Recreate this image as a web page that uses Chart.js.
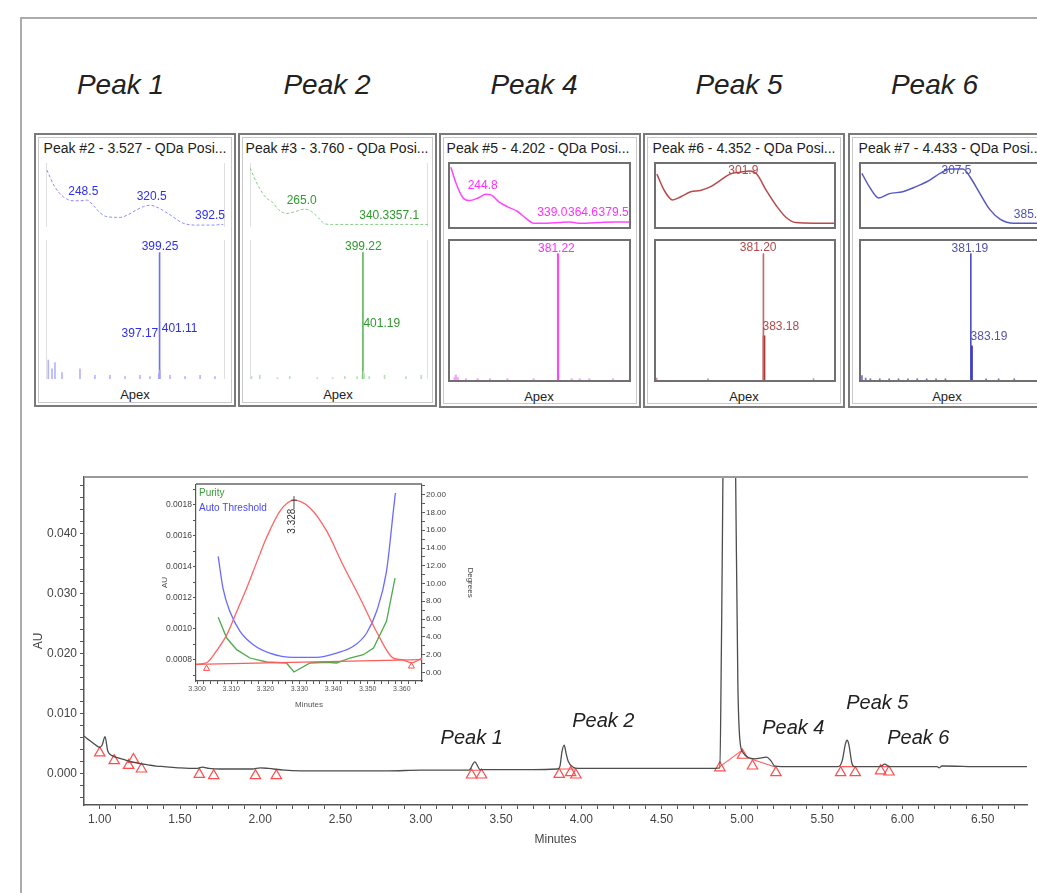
<!DOCTYPE html>
<html><head><meta charset="utf-8"><title>Chromatogram with peak spectra</title>
<script src="https://cdn.jsdelivr.net/npm/chart.js@4.4.1/dist/chart.umd.min.js"></script>
<style>
html,body{margin:0;padding:0;background:#fff;}
body{width:1037px;height:893px;overflow:hidden;position:relative;font-family:"Liberation Sans",Arial,Helvetica,sans-serif;}
.abs{position:absolute;}
.frame{left:20px;top:17px;width:1100px;height:900px;border-top:2px solid #ababab;border-left:2px solid #ababab;}
.bigT{font-style:italic;font-size:28px;color:#222;transform:translate(-50%,-50%);white-space:nowrap;}
.peakT{font-style:italic;font-size:20px;color:#222;transform:translate(-50%,-50%);white-space:nowrap;}
.panel{border:2px solid #7a7a7a;box-shadow:inset 0 0 0 2px #fff,inset 0 0 0 3px #c9c9c9;box-sizing:border-box;}
.ptitle{font-size:14px;color:#222;white-space:nowrap;transform:translate(-50%,-50%);}
.apex{font-size:13px;color:#222;transform:translate(-50%,-50%);white-space:nowrap;}
.box{border:2px solid #707070;box-sizing:border-box;}
.faint{border-left:1px solid #e0e0e0;border-right:1px solid #e0e0e0;box-sizing:border-box;}
canvas{position:absolute;}
</style></head>
<body>
<div class="abs frame"></div>
<script>
// ===================== DATA =====================
const TOP_TITLES = ['Peak 1', 'Peak 2', 'Peak 4', 'Peak 5', 'Peak 6'];
const PANEL_TITLES = ['Peak #2 - 3.527 - QDa Posi...', 'Peak #3 - 3.760 - QDa Posi...',
  'Peak #5 - 4.202 - QDa Posi...', 'Peak #6 - 4.352 - QDa Posi...', 'Peak #7 - 4.433 - QDa Posi...'];
const PANEL_FOOT = 'Apex';
const PEAK_NOTES = ['Peak 1', 'Peak 2', 'Peak 4', 'Peak 5', 'Peak 6'];

// main chromatogram (minutes, AU)
const CHROM_T = [0.902,0.94,0.98,1.00,1.015,1.033,1.05,1.08,1.12,1.16,1.20,1.25,1.30,1.35,1.40,1.50,1.60,1.64,1.68,1.75,
  1.85,1.95,2.00,2.05,2.15,2.25,2.40,2.60,2.80,3.00,3.20,3.30,3.336,3.37,3.50,3.70,3.85,3.866,3.88,3.893,3.905,3.918,3.949,
  3.98,4.05,4.20,4.40,4.60,4.80,4.863,4.872,4.92,4.961,4.975,4.988,5.008,5.04,5.08,5.13,5.155,5.18,5.205,5.30,5.50,5.60,
  5.625,5.645,5.656,5.667,5.685,5.70,5.80,5.86,5.89,5.92,6.10,6.215,6.23,6.245,6.50,6.776];
const CHROM_AU = [0.0063,0.0055,0.0047,0.0044,0.0048,0.0062,0.0038,0.0030,0.0026,0.0023,0.0020,0.0017,0.0015,0.0013,0.0012,
  0.0010,0.0009,0.0011,0.0009,0.0008,0.0008,0.0008,0.0010,0.0009,0.0006,0.0005,0.0005,0.0005,0.0005,0.0006,0.0006,0.0006,
  0.0020,0.0007,0.0007,0.0007,0.0008,0.0012,0.0038,0.0048,0.0034,0.0021,0.0011,0.0009,0.0009,0.0009,0.0009,0.0009,0.0009,
  0.0010,0.0200,0.1500,0.0500,0.0150,0.0055,0.0035,0.0027,0.0025,0.0027,0.0028,0.0022,0.0013,0.0012,0.0012,0.0012,
  0.0022,0.0050,0.0056,0.0048,0.0018,0.0012,0.0012,0.0012,0.0016,0.0012,0.0012,0.0012,0.0010,0.0013,0.0012,0.0012];
// peak start / end markers
const MARK_T = [1.00,1.09,1.18,1.21,1.26,1.62,1.71,1.97,2.10,3.316,3.378,3.862,3.933,3.966,4.863,5.004,5.066,5.212,5.615,5.706,5.864,5.916];
const MARK_AU = [0.0035,0.0022,0.0014,0.0024,0.0008,-0.0001,-0.0003,-0.0003,-0.0003,-0.0002,-0.0002,-0.0001,0.0002,-0.0002,
  0.0010,0.0031,0.0013,0.0002,0.0002,0.0002,0.0005,0.0003];
// integration baselines (null = gap)
const BASE_T = [3.305,3.37,null,3.862,3.966,null,4.863,5.004,null,5.066,5.212,null,5.615,5.706,null,5.864,5.916];
const BASE_AU = [0.0006,0.0006,null,0.0008,0.0008,null,0.0012,0.0040,null,0.0024,0.0011,null,0.0012,0.0012,null,0.0012,0.0012];

// inset: peak 1 purity plot
const INSET_T = [3.2997,3.3028,3.3058,3.3087,3.3116,3.3145,3.3175,3.3204,3.3243,3.3284,3.3331,3.338,3.3428,3.3477,3.3526,3.3575,3.360,3.3628,3.3659];
const INSET_AU = [0.00077,0.00078,0.00086,0.00096,0.00111,0.00126,0.00143,0.00159,0.00176,0.00183,0.00178,0.00163,0.00141,0.00120,0.00098,0.00081,0.00080,0.00078,0.00081];
const INSET_BASE_T = [3.2997, 3.3659];
const INSET_BASE_AU = [0.00077, 0.00080];
const INSET_MARK_T = [3.3028, 3.3628];
const INSET_MARK_AU = [0.000742, 0.000757];
const PURITY_T = [3.3062,3.3087,3.3116,3.3155,3.3204,3.3262,3.3284,3.3331,3.338,3.3409,3.3448,3.3487,3.3517,3.3555,3.358];
const PURITY_DEG = [6.19,3.86,2.55,1.61,1.16,1.05,0.03,1.05,1.13,1.05,1.61,1.98,2.74,5.74,10.6];
const THRESH_T = [3.3062,3.3076,3.3096,3.3126,3.3165,3.3213,3.3282,3.335,3.3409,3.3458,3.3497,3.3526,3.3555,3.3575,3.3581];
const THRESH_DEG = [13.06,9.49,6.87,4.62,3.11,2.17,1.69,1.69,2.17,2.93,4.43,6.87,11.37,18.13,20.2];
const INSET_LEGEND = ['Purity', 'Auto Threshold'];
const INSET_APEX_T = 3.3284, INSET_APEX_AU = 0.00183, INSET_APEX_LABEL = '3.328';

// panel spectra: UV (nm, relative absorbance) and MS (m/z, relative intensity)
const P1_UV_NM = [201,210,220,231,240,247,254,262,270,285,295,304,312,319,327,342,357,372,390,403];
const P1_UV_ABS = [89,63,47,41,41,42,34,22,16,15,20,27,32,34,31,19,6,3,3,4];
const P1_UV_PEAKS = ['248.5','320.5','392.5'], P1_UV_PK_X = [242.7,321,387.8], P1_UV_PK_Y = [55,47,17];
const P1_MS_MZ = [37.5,49.5,59.3,82,140.5,189,238,287,335.6,368,397.17,399.25,401.11,433,482,531,579.5];
const P1_MS_INT = [15,8,13,5,8,3,3,2,3,2,4,100,7,3,2,3,2];
const P1_MS_PEAKS = ['399.25','397.17','401.11'], P1_MS_PK_X = [400.7,395.1,406.2], P1_MS_PK_Y = [104.5,35.6,39.6];

const P2_UV_NM = [200,210,219,225,233,242,252,263,271,279,286,294,320,350,380,405];
const P2_UV_ABS = [92,63,45,40,27,21,24,28,24,14,5,4,4,4,4,4];
const P2_UV_PEAKS = ['265.0','340.3','357.1'], P2_UV_PK_X = [259.5,343.1,377.6], P2_UV_PK_Y = [41,17,17];
const P2_MS_MZ = [35,62,120,160,250,300,340,380,397.5,399.22,401.19,404,420,470,540,590];
const P2_MS_INT = [2,3,1,2,1,1,2,2,3,100,6,4,2,3,2,3];
const P2_MS_PEAKS = ['399.22','401.19'], P2_MS_PK_X = [400.5,400.8], P2_MS_PK_Y = [104.5,44];

const P3_UV_NM = [201,207,215,222,232,241,247,256,266,277,286,296,311,325,337,347,356,371,388,405];
const P3_UV_ABS = [95,69,46,42,46,52,51,40,32,25,15,6,6,7,8,6,6,7,8,8];
const P3_UV_PEAKS = ['244.8','339.0','364.6','379.5'], P3_UV_PK_X = [237.4,317.2,352.3,387.4], P3_UV_PK_Y = [65,23.5,23.5,23.5];
const P3_MS_MZ = [45,49,55,82,120,160,216.5,302,381.22,425.5,452,483,560];
const P3_MS_INT = [2,4,2,1,1,1,1,1,100,1,1,1,1];
const P3_MS_PEAKS = ['381.22'], P3_MS_PK_X = [376], P3_MS_PK_Y = [104.3];

const P4_UV_NM = [201,209.5,219,228.5,240,251,263,274,285,297,308,316,327,339,350,361,382,405];
const P4_UV_ABS = [84,58,43,48,56,58,64,74,84,87,89,84,58,33,15,7,6,6];
const P4_UV_PEAKS = ['301.9'], P4_UV_PK_X = [300.6], P4_UV_PK_Y = [89];
const P4_MS_MZ = [32,200,381.20,545], P4_MS_INT = [1.5,1,100,1];
const P4_MS_ISO_MZ = [383.18], P4_MS_ISO_INT = [35];
const P4_MS_PEAKS = ['381.20','383.18'], P4_MS_PK_X = [364,378.2], P4_MS_PK_Y = [104.8,42.4];

const P5_UV_NM = [201,209.4,220,232,247,262,277,289,300,315,323,334,345,357,372,390,405];
const P5_UV_ABS = [85,64,46,53,56,64,74,85,92,92,79,53,28,12,6,6,6];
const P5_UV_PEAKS = ['307.5','385.1'], P5_UV_PK_X = [307.6,389], P5_UV_PK_Y = [89,20];
const P5_MS_MZ = [33,45,60,90,120,150,180,210,240,270,300,381.19,430,470,520];
const P5_MS_INT = [3.4,1.5,1,1,1,1,1,1,1,1,1,100,1,1,1];
const P5_MS_ISO_MZ = [383.19], P5_MS_ISO_INT = [27];
const P5_MS_PEAKS = ['381.19','383.19'], P5_MS_PK_X = [378.2,380.5], P5_MS_PK_Y = [104.3,34.6];

// ===================== HELPERS =====================
const FONT = '"Liberation Sans", Arial, Helvetica, sans-serif';
Chart.defaults.font.family = FONT;
const zip = (xs, ys) => xs.map((x, i) => ({x: x, y: ys[i]}));
function addEl(cls, l, t, w, h, text) {
  const d = document.createElement('div');
  d.className = 'abs ' + cls;
  d.style.left = l + 'px'; d.style.top = t + 'px';
  if (w != null) d.style.width = w + 'px';
  if (h != null) d.style.height = h + 'px';
  if (text != null) d.textContent = text;
  document.body.appendChild(d);
  return d;
}
function addCanvas(l, t, w, h) {
  const c = document.createElement('canvas');
  c.width = w; c.height = h;
  c.style.left = l + 'px'; c.style.top = t + 'px';
  c.style.width = w + 'px'; c.style.height = h + 'px';
  document.body.appendChild(c);
  return c;
}
function fixedTicks(step) {
  return function (scale) {
    const out = [];
    const k0 = Math.ceil(scale.min / step - 1e-7), k1 = Math.floor(scale.max / step + 1e-7);
    for (let k = k0; k <= k1; k++) out.push({value: Math.round(k * step * 1e8) / 1e8});
    scale.ticks = out;
  };
}
function majorLabel(major, dec) {
  return function (v) { const r = v / major; return Math.abs(r - Math.round(r)) < 1e-6 ? Number(v).toFixed(dec) : ''; };
}
function labelPlugin(texts, xs, ys, aligns, color) {
  return {
    id: 'pkLabels',
    afterDatasetsDraw(chart) {
      const {ctx, scales} = chart;
      ctx.save();
      ctx.font = '12px ' + FONT; ctx.fillStyle = color; ctx.textBaseline = 'middle';
      texts.forEach((t, i) => {
        ctx.textAlign = aligns[i] || 'center';
        ctx.fillText(t, scales.x.getPixelForValue(xs[i]), scales.y.getPixelForValue(ys[i]));
      });
      ctx.restore();
    }
  };
}
function bareOptions(xmin, xmax, ymin, ymax) {
  return {
    responsive: false, animation: false, layout: {padding: 0},
    scales: {
      x: {type: 'linear', min: xmin, max: xmax, display: false, offset: false},
      y: {type: 'linear', min: ymin, max: ymax, display: false}
    },
    plugins: {legend: {display: false}, tooltip: {enabled: false}}
  };
}
function uvChart(b, nm, abs, pk, pkx, pky, st) {
  const c = addCanvas(b[0], b[1], b[2], b[3]);
  new Chart(c, {
    type: 'line',
    data: {datasets: [{data: zip(nm, abs), borderColor: st.line, borderWidth: st.lw, borderDash: st.dash || [],
      pointRadius: 0, cubicInterpolationMode: 'monotone', fill: false}]},
    options: bareOptions(200, 405, 0, 100),
    plugins: [labelPlugin(pk, pkx, pky, [], st.text)]
  });
}
function msChart(b, mz, inten, isoMz, isoInt, pk, pkx, pky, aligns, st) {
  const c = addCanvas(b[0], b[1], b[2], b[3]);
  const colors = inten.map(v => v >= 50 ? st.stick : st.noise);
  const ds = [{data: zip(mz, inten), backgroundColor: colors, barThickness: st.bw, grouped: false, borderWidth: 0}];
  if (isoMz) ds.push({data: zip(isoMz, isoInt), backgroundColor: st.iso, barThickness: 2, grouped: false, borderWidth: 0});
  new Chart(c, {
    type: 'bar', data: {datasets: ds},
    options: bareOptions(30, 612, 0, 110),
    plugins: [labelPlugin(pk, pkx, pky, aligns, st.text)]
  });
}

// ===================== LAYOUT: titles & panels =====================
[[120.5, 85], [327, 85], [534, 85], [739, 85], [934.5, 85]].forEach((p, i) => addEl('bigT', p[0], p[1], null, null, TOP_TITLES[i]));

const PANELS = [
  {o: [34, 133, 202, 274], tc: 135, ac: [135, 394], boxed: false, uv: [46, 163, 179, 64], ms: [46, 240, 179, 139]},
  {o: [238, 133, 199, 274], tc: 337, ac: [338, 394], boxed: false, uv: [250, 163, 178, 64], ms: [250, 240, 178, 139]},
  {o: [439, 133, 202, 275], tc: 538, ac: [539, 396], boxed: true, uv: [448, 162, 183, 67], ms: [448, 239, 183, 143]},
  {o: [643, 133, 202, 275], tc: 744, ac: [744, 396], boxed: true, uv: [654, 162, 182, 67], ms: [654, 239, 182, 143]},
  {o: [848, 133, 202, 275], tc: 950, ac: [947, 396], boxed: true, uv: [859, 162, 186, 67], ms: [859, 239, 186, 143]}
];
const inner = (b, boxed) => boxed ? [b[0] + 2, b[1] + 2, b[2] - 4, b[3] - 4] : b;
PANELS.forEach((p, i) => {
  addEl('panel', p.o[0], p.o[1], p.o[2], p.o[3]);
  addEl('ptitle', p.tc, 148, null, null, PANEL_TITLES[i]);
  addEl('apex', p.ac[0], p.ac[1], null, null, PANEL_FOOT);
  const cls = p.boxed ? 'box' : 'faint';
  addEl(cls, p.uv[0], p.uv[1], p.uv[2], p.uv[3]);
  addEl(cls, p.ms[0], p.ms[1], p.ms[2], p.ms[3]);
});
const ST = [
  {line: '#8c8cff', lw: 1, dash: [3, 2], text: '#2f2ff0', stick: '#6f6fff', noise: '#b4b4ff', bw: 1},
  {line: '#8acb8a', lw: 1, dash: [3, 2], text: '#2e9a2e', stick: '#5cb85c', noise: '#b8e0b8', bw: 1},
  {line: '#ff45ff', lw: 1.5, text: '#ff30ff', stick: '#ff45ff', noise: '#ff9cff', bw: 1.5},
  {line: '#b84a4a', lw: 1.5, text: '#b04a4a', stick: '#c46a6a', noise: '#c88a8a', iso: '#a02c2c', bw: 1},
  {line: '#5858c0', lw: 1.5, text: '#5252b0', stick: '#5050c8', noise: '#7070c8', iso: '#2424b4', bw: 1}
];
uvChart(inner(PANELS[0].uv, false), P1_UV_NM, P1_UV_ABS, P1_UV_PEAKS, P1_UV_PK_X, P1_UV_PK_Y, ST[0]);
msChart(inner(PANELS[0].ms, false), P1_MS_MZ, P1_MS_INT, null, null, P1_MS_PEAKS, P1_MS_PK_X, P1_MS_PK_Y, ['center', 'right', 'left'], ST[0]);
uvChart(inner(PANELS[1].uv, false), P2_UV_NM, P2_UV_ABS, P2_UV_PEAKS, P2_UV_PK_X, P2_UV_PK_Y, ST[1]);
msChart(inner(PANELS[1].ms, false), P2_MS_MZ, P2_MS_INT, null, null, P2_MS_PEAKS, P2_MS_PK_X, P2_MS_PK_Y, ['center', 'left'], ST[1]);
uvChart(inner(PANELS[2].uv, true), P3_UV_NM, P3_UV_ABS, P3_UV_PEAKS, P3_UV_PK_X, P3_UV_PK_Y, ST[2]);
msChart(inner(PANELS[2].ms, true), P3_MS_MZ, P3_MS_INT, null, null, P3_MS_PEAKS, P3_MS_PK_X, P3_MS_PK_Y, ['center'], ST[2]);
uvChart(inner(PANELS[3].uv, true), P4_UV_NM, P4_UV_ABS, P4_UV_PEAKS, P4_UV_PK_X, P4_UV_PK_Y, ST[3]);
msChart(inner(PANELS[3].ms, true), P4_MS_MZ, P4_MS_INT, P4_MS_ISO_MZ, P4_MS_ISO_INT, P4_MS_PEAKS, P4_MS_PK_X, P4_MS_PK_Y, ['center', 'left'], ST[3]);
uvChart(inner(PANELS[4].uv, true), P5_UV_NM, P5_UV_ABS, P5_UV_PEAKS, P5_UV_PK_X, P5_UV_PK_Y, ST[4]);
msChart(inner(PANELS[4].ms, true), P5_MS_MZ, P5_MS_INT, P5_MS_ISO_MZ, P5_MS_ISO_INT, P5_MS_PEAKS, P5_MS_PK_X, P5_MS_PK_Y, ['center', 'left'], ST[4]);

// ===================== MAIN CHROMATOGRAM =====================
const topLine = {
  id: 'topLine',
  afterDraw(chart) {
    const {ctx, chartArea: a} = chart;
    ctx.save(); ctx.strokeStyle = '#9a9a9a'; ctx.lineWidth = 2;
    ctx.beginPath(); ctx.moveTo(a.left, a.top); ctx.lineTo(a.right + 1, a.top); ctx.stroke(); ctx.restore();
  }
};
const mainCanvas = addCanvas(0, 460, 1037, 420);
new Chart(mainCanvas, {
  type: 'scatter',
  data: {datasets: [
    {data: zip(CHROM_T, CHROM_AU), showLine: true, borderColor: '#4d4d4d', borderWidth: 1.3, pointRadius: 0, cubicInterpolationMode: 'monotone'},
    {data: zip(BASE_T, BASE_AU), showLine: true, borderColor: '#ff5a5a', borderWidth: 1.1, pointRadius: 0, spanGaps: false},
    {data: zip(MARK_T, MARK_AU), showLine: false, pointStyle: 'triangle', pointRadius: 6, borderColor: '#ff4d4d', borderWidth: 1.2, backgroundColor: 'rgba(255,255,255,0)'}
  ]},
  options: {
    responsive: false, animation: false,
    layout: {padding: {left: 0, top: 17, right: 10, bottom: 0}},
    scales: {
      x: {type: 'linear', min: 0.902, max: 6.776, afterBuildTicks: fixedTicks(0.1), afterFit: s => { s.height = 75; },
        ticks: {autoSkip: false, maxRotation: 0, minRotation: 0, callback: majorLabel(0.5, 2), color: '#444', font: {size: 12}, padding: 3},
        grid: {drawOnChartArea: false, tickLength: 4, tickColor: '#555', tickWidth: 1},
        border: {color: '#555', width: 1.5},
        title: {display: true, text: 'Minutes', color: '#444', font: {size: 12}, padding: {top: 0, bottom: 33}}},
      y: {type: 'linear', min: -0.0052, max: 0.0495, afterBuildTicks: fixedTicks(0.002), afterFit: s => { s.width = 84; },
        ticks: {autoSkip: false, callback: majorLabel(0.01, 3), color: '#444', font: {size: 12}, padding: 3},
        grid: {drawOnChartArea: false, tickLength: 4, tickColor: '#555', tickWidth: 1},
        border: {color: '#555', width: 1.5},
        title: {display: true, text: 'AU', color: '#444', font: {size: 12}, padding: {top: 31, bottom: 0}}}
    },
    plugins: {legend: {display: false}, tooltip: {enabled: false}}
  },
  plugins: [topLine]
});

// ===================== INSET =====================
const insetDeco = {
  id: 'insetDeco',
  beforeDraw(chart) {
    const {ctx, chartArea: a} = chart;
    ctx.save(); ctx.fillStyle = '#fff'; ctx.fillRect(a.left, a.top, a.right - a.left, a.bottom - a.top); ctx.restore();
  },
  afterDraw(chart) {
    const {ctx, chartArea: a, scales} = chart;
    ctx.save();
    ctx.strokeStyle = '#666'; ctx.lineWidth = 1.5;
    ctx.beginPath(); ctx.moveTo(a.left, a.top); ctx.lineTo(a.right, a.top); ctx.stroke();
    ctx.font = '10px ' + FONT; ctx.textBaseline = 'middle'; ctx.textAlign = 'left';
    ctx.fillStyle = '#3c9c3c'; ctx.fillText(INSET_LEGEND[0], a.left + 3, a.top + 9);
    ctx.fillStyle = '#4a4aee'; ctx.fillText(INSET_LEGEND[1], a.left + 3, a.top + 24);
    const px = scales.x.getPixelForValue(INSET_APEX_T), py = scales.y.getPixelForValue(INSET_APEX_AU);
    ctx.strokeStyle = '#444'; ctx.lineWidth = 1;
    ctx.beginPath(); ctx.moveTo(px, py - 4); ctx.lineTo(px, py + 9); ctx.moveTo(px - 3, py); ctx.lineTo(px + 3, py); ctx.stroke();
    ctx.translate(px - 1.5, py + 21); ctx.rotate(-Math.PI / 2);
    ctx.textAlign = 'center'; ctx.fillStyle = '#333'; ctx.font = '10px ' + FONT;
    ctx.fillText(INSET_APEX_LABEL, 0, 0);
    ctx.restore();
  }
};
const insetCanvas = addCanvas(150, 478, 330, 237);
new Chart(insetCanvas, {
  type: 'scatter',
  data: {datasets: [
    {data: zip(INSET_BASE_T, INSET_BASE_AU), showLine: true, borderColor: '#ff5a5a', borderWidth: 1.3, pointRadius: 0, yAxisID: 'y'},
    {data: zip(INSET_T, INSET_AU), showLine: true, borderColor: '#ff6464', borderWidth: 1.3, pointRadius: 0, cubicInterpolationMode: 'monotone', yAxisID: 'y'},
    {data: zip(THRESH_T, THRESH_DEG), showLine: true, borderColor: '#6a6aff', borderWidth: 1.3, pointRadius: 0, cubicInterpolationMode: 'monotone', yAxisID: 'y2'},
    {data: zip(PURITY_T, PURITY_DEG), showLine: true, borderColor: '#4caa4c', borderWidth: 1.3, pointRadius: 0, yAxisID: 'y2'},
    {data: zip(INSET_MARK_T, INSET_MARK_AU), showLine: false, pointStyle: 'triangle', pointRadius: 3.5, borderColor: '#ff4d4d', borderWidth: 1, backgroundColor: 'rgba(255,255,255,0)', yAxisID: 'y'}
  ]},
  options: {
    responsive: false, animation: false,
    layout: {padding: {left: 0, top: 6, right: 0, bottom: 0}},
    scales: {
      x: {type: 'linear', min: 3.2997, max: 3.3659, afterBuildTicks: fixedTicks(0.002), afterFit: s => { s.height = 34; },
        ticks: {autoSkip: false, maxRotation: 0, minRotation: 0, callback: majorLabel(0.01, 3), color: '#555', font: {size: 7}, padding: 1},
        grid: {drawOnChartArea: false, tickLength: 3, tickColor: '#555'},
        border: {color: '#555', width: 1.2},
        title: {display: true, text: 'Minutes', color: '#555', font: {size: 8}, padding: {top: 0, bottom: 5.5}}},
      y: {type: 'linear', position: 'left', min: 0.000662, max: 0.001934, afterBuildTicks: fixedTicks(0.0001), afterFit: s => { s.width = 46; },
        ticks: {autoSkip: false, callback: majorLabel(0.0002, 4), color: '#444', font: {size: 8.5}, padding: 1},
        grid: {drawOnChartArea: false, tickLength: 3, tickColor: '#555'},
        border: {color: '#555', width: 1.2},
        title: {display: true, text: 'AU', color: '#444', font: {size: 8}, padding: {top: 10, bottom: 0}}},
      y2: {type: 'linear', position: 'right', min: -0.98, max: 21.2, afterBuildTicks: fixedTicks(1), afterFit: s => { s.width = 58; },
        ticks: {autoSkip: false, callback: majorLabel(2, 2), color: '#444', font: {size: 8}, padding: 1},
        grid: {drawOnChartArea: false, tickLength: 3, tickColor: '#555'},
        border: {color: '#555', width: 1.2},
        title: {display: true, text: 'Degrees', color: '#444', font: {size: 8}, padding: {top: 5, bottom: 0}}}
    },
    plugins: {legend: {display: false}, tooltip: {enabled: false}}
  },
  plugins: [insetDeco]
});

// ===================== PEAK NOTES ON CHROMATOGRAM =====================
[[471.7, 736.7], [603.3, 720], [793.3, 726.7], [877.3, 701.7], [918.3, 736.7]].forEach((p, i) => addEl('peakT', p[0], p[1], null, null, PEAK_NOTES[i]));
</script>
</body></html>
